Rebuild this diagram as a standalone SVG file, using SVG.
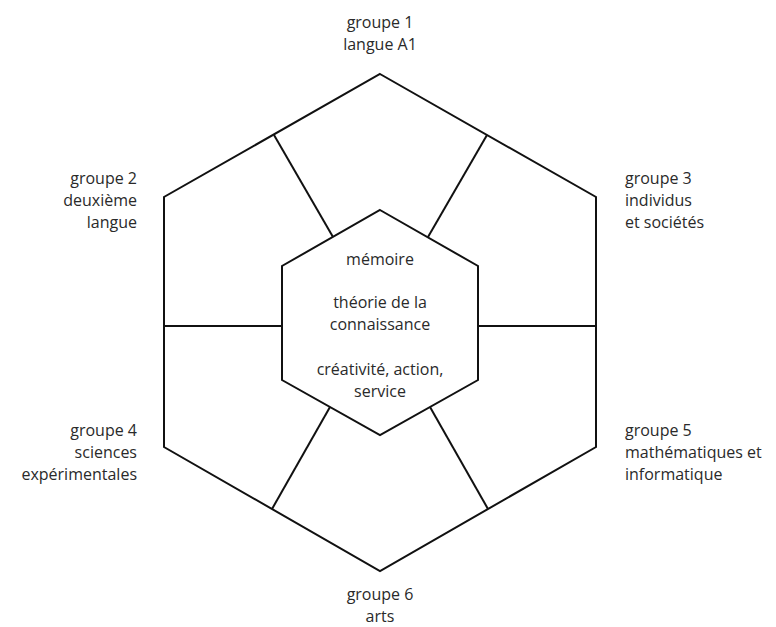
<svg xmlns="http://www.w3.org/2000/svg" width="776" height="627" viewBox="0 0 776 627">
<style>
.ln{fill:none;stroke:#111;stroke-width:2;stroke-linejoin:miter}
text{font-family:"Open Sans","Noto Sans",sans-serif;font-size:16px;fill:#2a2a2a}
.m{text-anchor:middle}.e{text-anchor:end}
</style>
<rect width="776" height="627" fill="#fff"/>
<g id="connectors">
<polygon class="ln" points="380,74 596,197 596,447 380,571 164,447 164,197"/>
<line class="ln" x1="274" y1="135" x2="333" y2="237"/>
<line class="ln" x1="487" y1="135" x2="428" y2="237"/>
<line class="ln" x1="164" y1="326" x2="282" y2="326"/>
<line class="ln" x1="478" y1="326" x2="596" y2="326"/>
<line class="ln" x1="330" y1="407" x2="272" y2="509"/>
<line class="ln" x1="430" y1="407" x2="488" y2="509"/>
</g>
<g id="center">
<polygon class="ln" points="380,210 478,266 478,380 380,435 282,380 282,266" fill="#fff"/>
<text class="m" x="380" y="265">mémoire</text>
<text class="m" x="380" y="308">théorie de la</text>
<text class="m" x="380" y="330">connaissance</text>
<text class="m" x="380" y="375">créativité, action,</text>
<text class="m" x="380" y="397">service</text>
</g>
<g id="g1"><text class="m" x="380" y="28">groupe 1</text><text class="m" x="380" y="50">langue A1</text></g>
<g id="g2"><text class="e" x="137" y="184">groupe 2</text><text class="e" x="137" y="206">deuxième</text><text class="e" x="137" y="228">langue</text></g>
<g id="g3"><text x="625" y="184">groupe 3</text><text x="625" y="206">individus</text><text x="625" y="228">et sociétés</text></g>
<g id="g4"><text class="e" x="137" y="436">groupe 4</text><text class="e" x="137" y="458">sciences</text><text class="e" x="137" y="480">expérimentales</text></g>
<g id="g5"><text x="625" y="436">groupe 5</text><text x="625" y="458">mathématiques et</text><text x="625" y="480">informatique</text></g>
<g id="g6"><text class="m" x="380" y="600">groupe 6</text><text class="m" x="380" y="622">arts</text></g>
</svg>
